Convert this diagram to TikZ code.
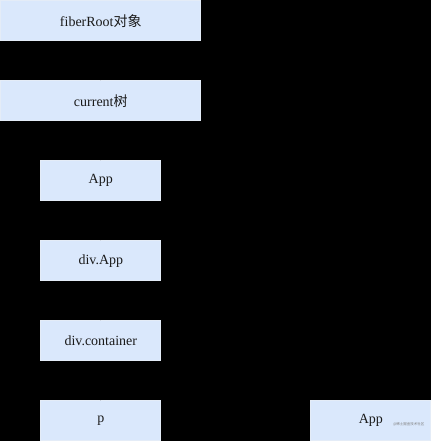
\documentclass[tikz,border=0pt]{standalone}
\usepackage{fontspec}
\setmainfont{Liberation Serif}
\newfontfamily\cjk{Noto Sans CJK SC}
\usetikzlibrary{arrows.meta}
\definecolor{boxfill}{HTML}{DAE8FC}
\definecolor{boxline}{HTML}{E4ECF7}
\definecolor{txt}{HTML}{1A1A1A}
\begin{document}
\begin{tikzpicture}[x=1pt,y=-1pt,
  box/.style={draw=boxline,fill=boxfill,line width=0.8pt,minimum height=40pt,inner sep=0pt,
    font=\fontsize{14}{16}\selectfont,text=txt,anchor=north west},
  wide/.style={box,minimum width=200pt},
  narrow/.style={box,minimum width=120pt},
  link/.style={draw=black,line width=1pt,-{Stealth[length=6pt]}}]
\fill[black] (0,0) rectangle (431,441);
\useasboundingbox (0,0) rectangle (431,441);
\node[wide] (root) at (0.4,0.4) {fiberRoot{\cjk 对象}};
\node[wide] (cur) at (0.4,80.4) {current{\cjk 树}};
\node[narrow] (app) at (40.4,160.4) {App};
\node[narrow] (divapp) at (40.4,240.4) {div.App};
\node[narrow] (cont) at (40.4,320.4) {div.container};
\node[narrow] (p) at (40.4,400.4) {p};
\node[narrow] (app2) at (310.4,400.4) {App};
\node[font=\cjk\fontsize{3.5}{4}\selectfont,text=gray,anchor=east] (wm) at (428,424) {@稀土掘金技术社区};
\draw[link] (root) -- (cur);
\draw[link] (cur.south -| app.north) -- (app);
\draw[link] (app) -- (divapp);
\draw[link] (divapp) -- (cont);
\draw[link] (cont) -- (p);
\end{tikzpicture}
\end{document}
